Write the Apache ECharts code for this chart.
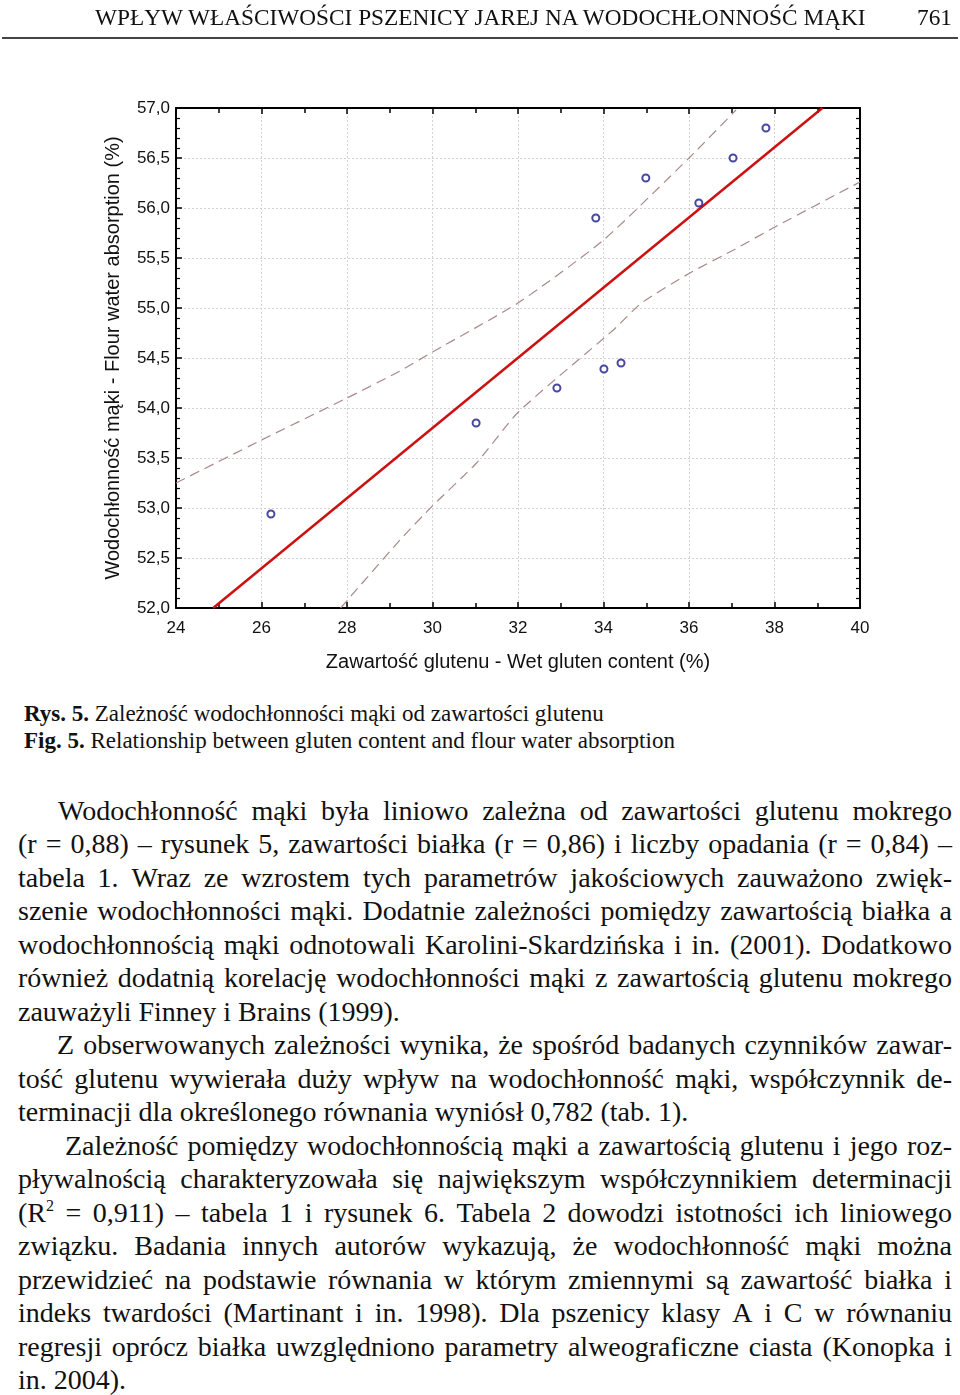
<!DOCTYPE html>
<html><head><meta charset="utf-8">
<script src="https://cdn.jsdelivr.net/npm/echarts@6/dist/echarts.min.js"></script>
<style>
html,body{margin:0;padding:0;background:#fff;}
body{width:960px;height:1395px;position:relative;overflow:hidden;font-family:"Liberation Serif","Times New Roman",serif;color:#111;}
#chart{position:absolute;left:0;top:0;width:960px;height:690px;}
.hdr{position:absolute;top:4px;font-size:23.3px;line-height:26px;white-space:nowrap;}
#rule{position:absolute;left:2px;top:37px;width:956px;height:2px;background:#444;}
.cap{position:absolute;left:24px;font-size:23px;line-height:27px;white-space:nowrap;}
#txt{position:absolute;left:18px;top:794px;width:934px;font-size:28px;}
.ln{height:33.47px;line-height:33.47px;display:flex;justify-content:space-between;white-space:nowrap;}
.ln.last{display:block;white-space:pre;}
sup{font-size:16px;line-height:0;vertical-align:11px;}
</style></head>
<body>
<div id="chart"></div>
<div class="hdr" style="left:95px">WPŁYW WŁAŚCIWOŚCI PSZENICY JAREJ NA WODOCHŁONNOŚĆ MĄKI</div>
<div class="hdr" style="right:8px">761</div>
<div id="rule"></div>
<div class="cap" style="top:700px"><b>Rys. 5.</b> Zależność wodochłonności mąki od zawartości glutenu</div>
<div class="cap" style="top:727px"><b>Fig. 5.</b> Relationship between gluten content and flour water absorption</div>
<div id="txt"></div>
<script>
// ---- chart data ----
const glutenContent   = [26.22, 31.02, 32.91, 33.82, 34.01, 34.41, 34.99, 36.23, 37.03, 37.80];
const waterAbsorption = [52.94, 53.85, 54.20, 55.90, 54.39, 54.45, 56.30, 56.05, 56.50, 56.80];
const fitX   = [24.87, 39.12];
const fitY   = [52.00, 57.00];
const upperX = [24.00, 26.00, 28.00, 29.24, 30.00, 32.00, 34.00, 36.00, 37.10];
const upperY = [53.25, 53.68, 54.10, 54.37, 54.56, 55.05, 55.68, 56.50, 56.98];
const lowerX = [27.85, 29.24, 30.02, 31.03, 32.01, 34.23, 34.89, 36.02, 37.04, 38.01, 40.00];
const lowerY = [52.00, 52.68, 53.03, 53.45, 53.96, 54.78, 55.05, 55.35, 55.58, 55.81, 56.26];
const xTicks = {min: 24, max: 40, interval: 2};
const yTicks = {min: 52, max: 57, interval: 0.5};
const xName = 'Zawartość glutenu - Wet gluten content (%)';
const yName = 'Wodochłonność mąki - Flour water absorption (%)';

// ---- body text lines ----
const paragraphs = [
 {indent: 40, lines: [
  'Wodochłonność mąki była liniowo zależna od zawartości glutenu mokrego',
  '(r = 0,88) – rysunek 5, zawartości białka (r = 0,86) i liczby opadania (r = 0,84) –',
  'tabela 1. Wraz ze wzrostem tych parametrów jakościowych zauważono zwięk-',
  'szenie wodochłonności mąki. Dodatnie zależności pomiędzy zawartością białka a',
  'wodochłonnością mąki odnotowali Karolini-Skardzińska i in. (2001). Dodatkowo',
  'również dodatnią korelację wodochłonności mąki z zawartością glutenu mokrego',
  'zauważyli Finney i Brains (1999).']},
 {indent: 39, lines: [
  'Z obserwowanych zależności wynika, że spośród badanych czynników zawar-',
  'tość glutenu wywierała duży wpływ na wodochłonność mąki, współczynnik de-',
  'terminacji dla określonego równania wyniósł 0,782 (tab. 1).']},
 {indent: 47, lines: [
  'Zależność pomiędzy wodochłonnością mąki a zawartością glutenu i jego roz-',
  'pływalnością charakteryzowała się największym współczynnikiem determinacji',
  '(R^2 = 0,911) – tabela 1 i rysunek 6. Tabela 2 dowodzi istotności ich liniowego',
  'związku. Badania innych autorów wykazują, że wodochłonność mąki można',
  'przewidzieć na podstawie równania w którym zmiennymi są zawartość białka i',
  'indeks twardości (Martinant i in. 1998). Dla pszenicy klasy A i C w równaniu',
  'regresji oprócz białka uwzględniono parametry alweograficzne ciasta (Konopka i',
  'in. 2004).']}
];
const esc = s => s.replace(/&/g,'&amp;').replace(/</g,'&lt;').replace('^2','<sup>2</sup>');
const txt = document.getElementById('txt');
paragraphs.forEach(p => {
  p.lines.forEach((l, i) => {
    const d = document.createElement('div');
    const last = i === p.lines.length - 1;
    d.className = 'ln' + (last ? ' last' : '');
    if (i === 0) d.style.paddingLeft = p.indent + 'px';
    if (last) d.innerHTML = esc(l);
    else d.innerHTML = l.split(' ').map(w => '<span>' + esc(w) + '</span>').join('');
    txt.appendChild(d);
  });
});

// ---- chart ----
const sans = '"Liberation Sans", Arial, sans-serif';
const fmtY = v => v.toFixed(1).replace('.', ',');
function xAxis(pos, labels) {
  return {
    type: 'value', position: pos, min: xTicks.min, max: xTicks.max, interval: xTicks.interval,
    axisLine: {show: true, onZero: false, lineStyle: {color: '#000', width: 2}},
    axisTick: {show: true, inside: true, length: 6, lineStyle: {color: '#000', width: 1.5}},
    minorTick: {show: true, splitNumber: 2, length: 5, lineStyle: {color: '#000', width: 1.5}},
    axisLabel: {show: labels, margin: 12, fontSize: 17, color: '#111', fontFamily: sans},
    splitLine: {show: labels, lineStyle: {color: '#d2d2d2', width: 1, type: [2, 2]}},
    name: labels ? xName : '', nameLocation: 'middle', nameGap: 44,
    nameTextStyle: {fontSize: 20, color: '#111', fontFamily: sans}
  };
}
function yAxis(pos, labels) {
  return {
    type: 'value', position: pos, min: yTicks.min, max: yTicks.max, interval: yTicks.interval,
    axisLine: {show: true, onZero: false, lineStyle: {color: '#000', width: 2}},
    axisTick: {show: true, inside: true, length: 6, lineStyle: {color: '#000', width: 1.5}},
    minorTick: {show: true, splitNumber: 5, length: 4, lineStyle: {color: '#000', width: 1.2}},
    axisLabel: {show: labels, margin: 6, fontSize: 17, color: '#111', fontFamily: sans, formatter: fmtY},
    splitLine: {show: labels, lineStyle: {color: '#d2d2d2', width: 1, type: [2, 2]}},
    name: labels ? yName : '', nameLocation: 'middle', nameGap: 53,
    nameTextStyle: {fontSize: 20, color: '#111', fontFamily: sans}
  };
}
const zip = (a, b) => a.map((v, i) => [v, b[i]]);
const chart = echarts.init(document.getElementById('chart'), null, {renderer: 'canvas'});
chart.setOption({
  animation: false,
  grid: {left: 176, top: 108, width: 684, height: 500, containLabel: false},
  xAxis: [xAxis('bottom', true), xAxis('top', false)],
  yAxis: [yAxis('left', true), yAxis('right', false)],
  series: [
    {type: 'line', data: zip(upperX, upperY), smooth: 0.2, symbol: 'none', z: 2,
     lineStyle: {color: '#a88888', width: 1.2, type: [10, 6]}},
    {type: 'line', data: zip(lowerX, lowerY), smooth: 0.2, symbol: 'none', z: 2,
     lineStyle: {color: '#a88888', width: 1.2, type: [10, 6]}},
    {type: 'line', data: zip(fitX, fitY), symbol: 'none', z: 3,
     lineStyle: {color: '#cc1111', width: 2.5}},
    {type: 'scatter', data: zip(glutenContent, waterAbsorption), symbol: 'circle', symbolSize: 7, z: 4,
     itemStyle: {color: '#fff', borderColor: '#1a1a8c', borderWidth: 2}}
  ]
});
</script>
</body></html>
